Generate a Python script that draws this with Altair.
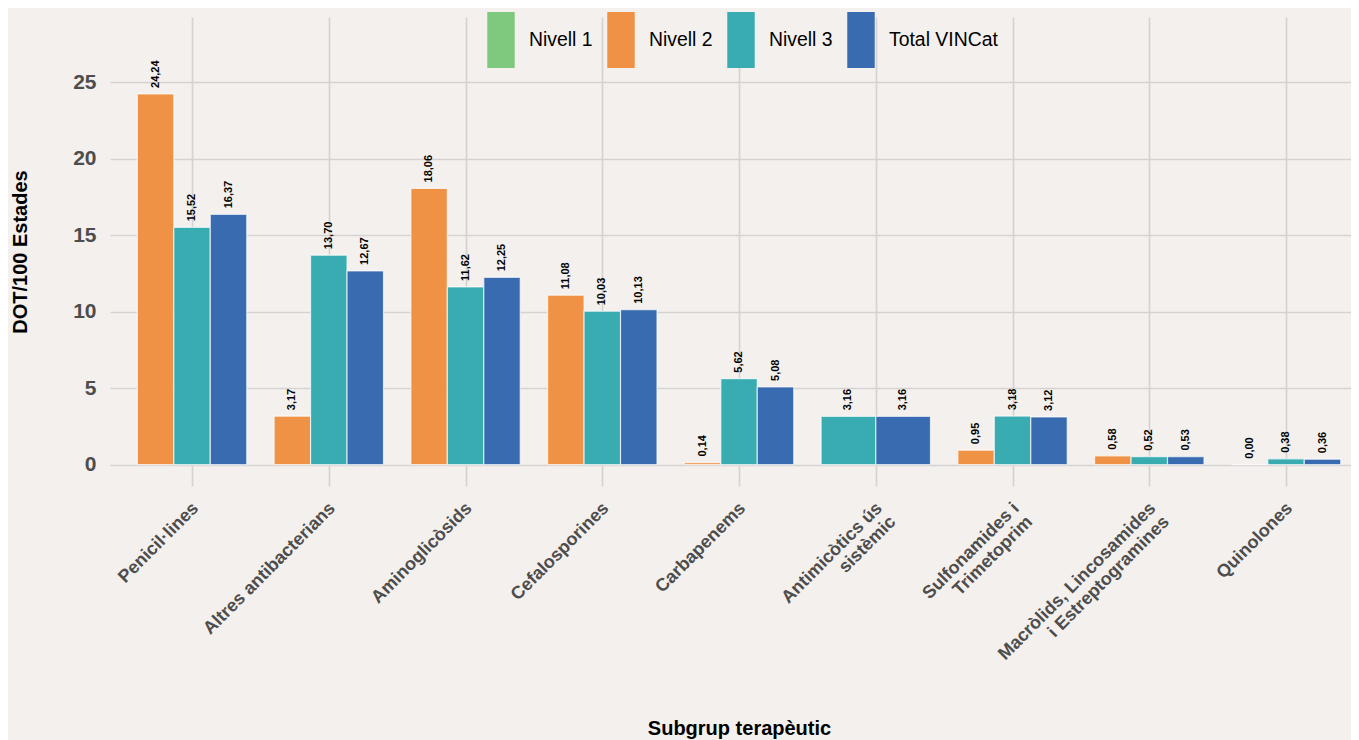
import json
import altair as alt
import pandas as pd

# ---- data ----
categories = [
    "Penicil·lines",
    "Altres antibacterians",
    "Aminoglicòsids",
    "Cefalosporines",
    "Carbapenems",
    "Antimicòtics ús\nsistèmic",
    "Sulfonamides i\nTrimetoprim",
    "Macròlids, Lincosamides\ni Estreptogramines",
    "Quinolones",
]
series = ["Nivell 1", "Nivell 2", "Nivell 3", "Total VINCat"]
nivell1 = [None, None, None, None, None, None, None, None, None]
nivell2 = [24.24, 3.17, 18.06, 11.08, 0.14, None, 0.95, 0.58, 0.00]
nivell3 = [15.52, 13.70, 11.62, 10.03, 5.62, 3.16, 3.18, 0.52, 0.38]
total = [16.37, 12.67, 12.25, 10.13, 5.08, 3.16, 3.12, 0.53, 0.36]
y_ticks = [0, 5, 10, 15, 20, 25]
colors = ["#7FC97F", "#F09246", "#39ACB2", "#386BB0"]

rows = []
for s_i, (name, vals) in enumerate(zip(series, [nivell1, nivell2, nivell3, total])):
    for c_i, v in enumerate(vals):
        if v is not None:
            rows.append({"category": categories[c_i], "cat_idx": c_i + 1,
                         "series": name, "series_idx": s_i, "value": v})
df = pd.DataFrame(rows)

labels_js = json.dumps(categories, ensure_ascii=False)
label_expr = "split(" + labels_js + "[datum.value - 1], '\\n')"

FONT = "Liberation Sans"
BG = "#F4F0ED"
GRID = "#D5D3D2"
AX_TXT = "#4D4D4D"

ymax = max(nivell2[0], max(v for v in nivell3), max(total)) * 1.15
ydom = [-ymax * 0.05, ymax * 1.05]
xdom = [0.4, 9.475]

bars = alt.Chart().mark_bar(stroke="white", strokeWidth=1.2, strokeOpacity=0.7).encode(
    x=alt.X(
        "x0:Q",
        scale=alt.Scale(domain=xdom, nice=False, zero=False),
        axis=alt.Axis(
            values=list(range(1, len(categories) + 1)),
            labelExpr=label_expr,
            title="Subgrup terapèutic",
            labelAngle=315,
            labelAlign="right",
            labelBaseline="top",
            labelOffset=-3,
            labelPadding=13,
            labelFontSize=18,
            labelFontWeight="bold",
            labelColor=AX_TXT,
            labelLineHeight=19,
            labelLimit=0,
            labelOverlap=False,
            labelFlush=False,
            labelBound=False,
            titleX=629,
            titleY=232,
            titleAlign="center",
            titleBaseline="top",
        ),
    ),
    x2="x1:Q",
    y=alt.Y(
        "value:Q",
        scale=alt.Scale(domain=ydom, nice=False, zero=False),
        axis=alt.Axis(
            values=y_ticks,
            title="DOT/100 Estades",
            labelFontSize=21,
            labelFontWeight="bold",
            labelColor=AX_TXT,
            labelPadding=14,
            titleX=-90,
            titleY=234.5,
            titleAngle=270,
            titleAlign="center",
            titleBaseline="middle",
        ),
    ),
    y2=alt.datum(0),
    color=alt.Color(
        "series:N",
        scale=alt.Scale(domain=series, range=colors),
        legend=alt.Legend(
            title=None,
            orient="none",
            legendX=363,
            legendY=-5,
            direction="horizontal",
            symbolType="M-0.49,-1H0.49V1H-0.49Z",
            symbolSize=3136,
            symbolStrokeWidth=0,
            symbolOpacity=1,
            labelFont=FONT,
            labelFontSize=19.4,
            labelColor="#000000",
            labelOffset=0,
            columnPadding=-0.5,
            padding=0,
        ),
    ),
)

texts = alt.Chart().mark_text(
    angle=270, align="left", baseline="middle", dx=6,
    font=FONT, fontSize=11, fontWeight="bold", color="#000000",
).encode(
    x="xm:Q",
    y="value:Q",
    text="label:N",
)

chart = (
    alt.layer(bars, texts, data=df)
    .transform_joinaggregate(n="count()", groupby=["cat_idx"])
    .transform_window(k="row_number()", groupby=["cat_idx"], sort=[alt.SortField("series_idx")])
    .transform_calculate(
        x0="datum.cat_idx - 0.4 + (datum.k - 1) * 0.8 / datum.n",
        x1="datum.cat_idx - 0.4 + datum.k * 0.8 / datum.n",
    )
    .transform_calculate(
        xm="(datum.x0 + datum.x1) / 2",
        label="replace(format(datum.value, '.2f'), '.', ',')",
    )
    .properties(
        width=1241,
        height=469,
        autosize=alt.AutoSizeParams(type="none"),
        padding={"left": 102, "top": 9, "right": 0, "bottom": 254},
        background=BG,
    )
    .configure_view(strokeWidth=0)
    .configure_axis(
        domain=False,
        ticks=False,
        grid=True,
        gridColor=GRID,
        gridWidth=1.7,
        labelFont=FONT,
        titleFont=FONT,
        titleFontSize=20,
        titleFontWeight="bold",
        titleColor="#000000",
    )
)

chart.save("out.html", embed_options={"renderer": "svg", "actions": False})
